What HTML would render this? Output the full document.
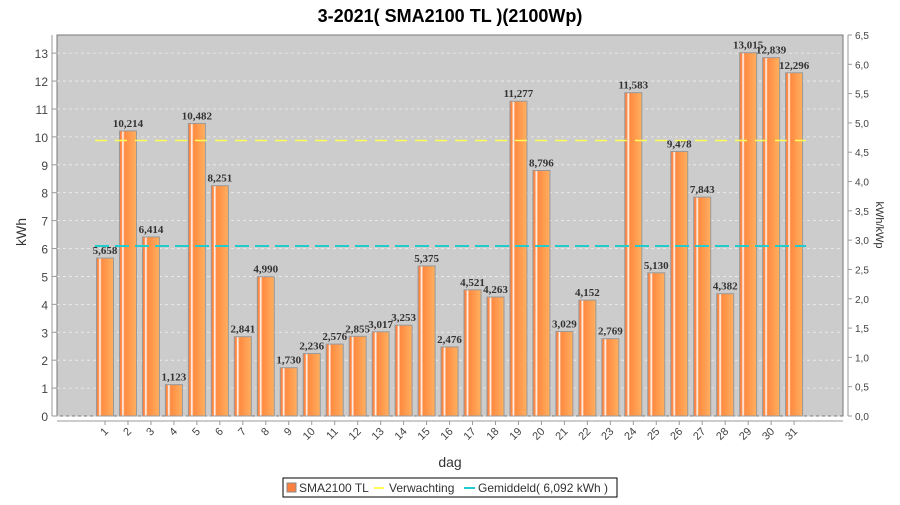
<!DOCTYPE html>
<html><head><meta charset="utf-8"><style>
body{margin:0;background:#fff;width:900px;height:500px;overflow:hidden;font-family:"Liberation Sans",sans-serif}
</style></head><body>
<svg id="chart" width="900" height="500" xmlns="http://www.w3.org/2000/svg">
<defs>
<linearGradient id="bg" x1="0" x2="1" y1="0" y2="0">
<stop offset="0" stop-color="#ff7a33"/><stop offset="0.12" stop-color="#ff8c4a"/><stop offset="0.2" stop-color="#ffffff"/><stop offset="0.3" stop-color="#ff8a40"/><stop offset="1" stop-color="#ffb060"/>
</linearGradient>
</defs>
<text x="450" y="22" text-anchor="middle" font-size="18" font-weight="bold" fill="#000">3-2021( SMA2100 TL )(2100Wp)</text>
<rect x="57" y="35" width="786" height="381" fill="#cccccc" stroke="#777"/>
<g id="grid"></g><g id="bars"></g><g id="lines"></g><g id="axes"></g>
<text transform="translate(26,232) rotate(-90)" text-anchor="middle" font-size="14" fill="#333">kWh</text>
<text transform="translate(876,225) rotate(90)" text-anchor="middle" font-size="11" fill="#333">kWh/kWp</text>
<text x="450" y="467" text-anchor="middle" font-size="14" fill="#333">dag</text>
<g>
<rect x="283" y="478" width="334" height="19" fill="#fff" stroke="#000"/>
<rect x="287" y="483" width="9" height="9" fill="#ff7f3f" stroke="#888"/>
<text x="299" y="492" font-size="12" fill="#333">SMA2100 TL</text>
<line x1="374" y1="488" x2="384" y2="488" stroke="#ffff55" stroke-width="2"/>
<text x="389" y="492" font-size="12" fill="#333">Verwachting</text>
<line x1="464" y1="488" x2="475" y2="488" stroke="#22cccc" stroke-width="2"/>
<text x="478" y="492" font-size="12" fill="#333">Gemiddeld( 6,092 kWh )</text>
</g>
</svg>
<script>
const days=[1,2,3,4,5,6,7,8,9,10,11,12,13,14,15,16,17,18,19,20,21,22,23,24,25,26,27,28,29,30,31];
const values=[5.658,10.214,6.414,1.123,10.482,8.251,2.841,4.990,1.730,2.236,2.576,2.855,3.017,3.253,5.375,2.476,4.521,4.263,11.277,8.796,3.029,4.152,2.769,11.583,5.130,9.478,7.843,4.382,13.015,12.839,12.296];
const expected=9.87;
const average=6.092;
const yTicks=[0,1,2,3,4,5,6,7,8,9,10,11,12,13];
const y2Ticks=[0,0.5,1,1.5,2,2.5,3,3.5,4,4.5,5,5.5,6,6.5];
const NS="http://www.w3.org/2000/svg";
const y=v=>416-v*(381/13.65);
const y2=v=>y(v*2.1);
const x=d=>105+(d-1)*22.97;
function mk(t,a,p,txt){const e=document.createElementNS(NS,t);for(const k in a)e.setAttribute(k,a[k]);if(txt!=null)e.textContent=txt;document.getElementById(p).appendChild(e);return e;}
yTicks.forEach(v=>{
 const g=mk('line',{x1:57,x2:843,y1:y(v),y2:y(v),stroke:'#eee','stroke-dasharray':'3,3','stroke-width':0.8},'grid');
 
 
 mk('line',{x1:52,x2:57,y1:y(v),y2:y(v),stroke:'#999'},'axes');
 const t=mk('text',{x:48,y:y(v)+5,'text-anchor':'end','font-size':12,fill:'#444'},'axes',String(v));
 
 
});
mk('line',{x1:52,x2:52,y1:35,y2:416,stroke:'#999'},'axes');
mk('line',{x1:848,x2:848,y1:35,y2:416,stroke:'#999'},'axes');
mk('line',{x1:57,x2:843,y1:421,y2:421,stroke:'#999'},'axes');
y2Ticks.forEach(v=>{
 mk('line',{x1:848,x2:852,y1:y2(v),y2:y2(v),stroke:'#999'},'axes');
 const t=mk('text',{x:855,y:y2(v)+4,'font-size':10,fill:'#444'},'axes',v.toFixed(1).replace('.',','));
 
 
});
days.forEach((d,i)=>{
 const v=values[i],cx=x(d);
 const r=mk('rect',{x:cx-8.5,y:y(v),width:17,height:416-y(v),fill:'url(#bg)',stroke:'#999','stroke-width':1},'bars');
 
 
 const l=mk('text',{x:cx,y:y(v)-4,'text-anchor':'middle','font-size':11,'font-weight':'bold','font-family':'Liberation Serif, serif',fill:'#333'},'bars',v.toFixed(3).replace('.',','));
 
 
 mk('line',{x1:cx,x2:cx,y1:421,y2:425,stroke:'#999'},'axes');
 const t=mk('text',{x:0,y:0,'text-anchor':'end','font-size':11,fill:'#444',transform:`translate(${cx+4},${432}) rotate(-45)`},'axes',String(d));
 
 
});
const le=mk('line',{x1:95,x2:806,y1:y(expected),y2:y(expected),stroke:'#ffff55','stroke-width':1.5,'stroke-dasharray':'12,8'},'lines');


const la=mk('line',{x1:95,x2:806,y1:y(average),y2:y(average),stroke:'#22cccc','stroke-width':2,'stroke-dasharray':'14,6'},'lines');


</script>
</body></html>
